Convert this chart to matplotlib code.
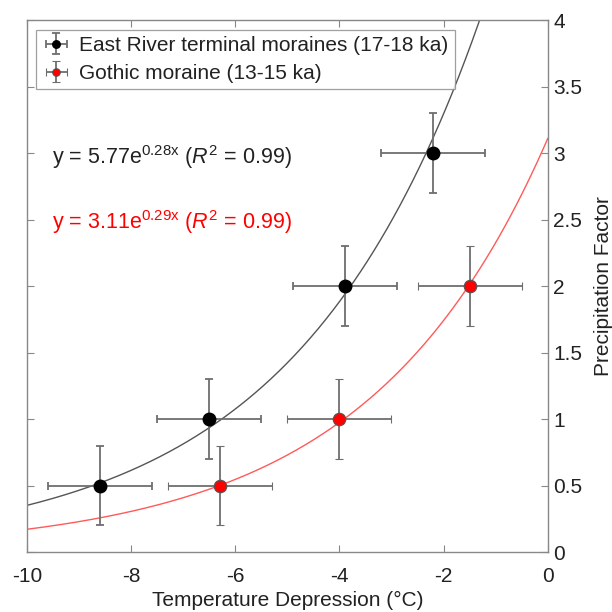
import numpy as np
import matplotlib
matplotlib.use("Agg")
import matplotlib.pyplot as plt

plt.rcParams['font.family'] = ['Liberation Sans', 'DejaVu Sans']
plt.rcParams['mathtext.fontset'] = 'custom'
plt.rcParams['mathtext.rm'] = 'Liberation Sans'
plt.rcParams['mathtext.it'] = 'Liberation Sans:italic'

# Data
east_x = [-8.6, -6.5, -3.9, -2.2]
east_y = [0.5, 1.0, 2.0, 3.0]
gothic_x = [-6.3, -4.0, -1.5]
gothic_y = [0.5, 1.0, 2.0]
x_err = 1.0
y_err = 0.3
east_fit = (5.77, 0.28)
gothic_fit = (3.11, 0.29)
xticks = [-10, -8, -6, -4, -2, 0]
yticks = [0, 0.5, 1, 1.5, 2, 2.5, 3, 3.5, 4]
ytick_labels = ['0', '0.5', '1', '1.5', '2', '2.5', '3', '3.5', '4']

fig = plt.figure(figsize=(6.12, 6.12), dpi=100)
ax = fig.add_axes([0.044, 0.098, 0.851, 0.869])

xs = np.linspace(-10, 0, 400)
ax.plot(xs, east_fit[0] * np.exp(east_fit[1] * xs), color='#555555', lw=1.0, zorder=2)
ax.plot(xs, gothic_fit[0] * np.exp(gothic_fit[1] * xs), color='#ff5a5a', lw=1.0, zorder=2)

ecol = '#6e6e6e'
ax.errorbar(east_x, east_y, xerr=x_err, yerr=y_err, fmt='o', color='black',
            mfc='black', mec='black', ms=9, ecolor=ecol, elinewidth=1.3,
            capsize=3, capthick=1.3, zorder=3,
            label='East River terminal moraines (17-18 ka)')
ax.errorbar(gothic_x, gothic_y, xerr=x_err, yerr=y_err, fmt='o', color='red',
            mfc='red', mec='#555555', mew=0.8, ms=9, ecolor=ecol, elinewidth=1.3,
            capsize=3, capthick=1.3, zorder=3,
            label='Gothic moraine (13-15 ka)')

ax.set_xlim(-10, 0)
ax.set_ylim(0, 4)
ax.set_xticks(xticks)
ax.set_xticklabels([str(t) for t in xticks])
ax.set_yticks(yticks)
ax.set_yticklabels(ytick_labels)
ax.yaxis.tick_right()
ax.yaxis.set_label_position('right')
ax.tick_params(direction='in', length=5, width=0.8, color='#888888',
               labelsize=15, labelcolor='#222222',
               top=True, bottom=True, left=True, right=True,
               labelleft=False, labelright=True)
ax.tick_params(axis='x', pad=11)
ax.tick_params(axis='y', pad=4)
for s in ax.spines.values():
    s.set_color('#888888')
    s.set_linewidth(1.0)

ax.set_xlabel('Temperature Depression (°C)', fontsize=15, color='#222222', labelpad=3)
ax.set_ylabel('Precipitation Factor', fontsize=15, color='#222222', labelpad=8)

leg = ax.legend(loc='upper left', fontsize=15, frameon=True, fancybox=False,
                edgecolor='#888888', borderpad=0.3, handletextpad=0.45,
                labelspacing=0.45, borderaxespad=0.45, handlelength=1.3,
                markerscale=0.6)
leg.get_frame().set_linewidth(0.9)
for t in leg.get_texts():
    t.set_color('#222222')

ax.text(-9.52, 2.97, r'y = 5.77e$^{\mathrm{0.28x}}$ ($R^2$ = 0.99)', fontsize=15.5,
        color='#222222', va='center', ha='left')
ax.text(-9.52, 2.48, r'y = 3.11e$^{\mathrm{0.29x}}$ ($R^2$ = 0.99)', fontsize=15.5,
        color='red', va='center', ha='left')

fig.savefig('out.png', dpi=100)
